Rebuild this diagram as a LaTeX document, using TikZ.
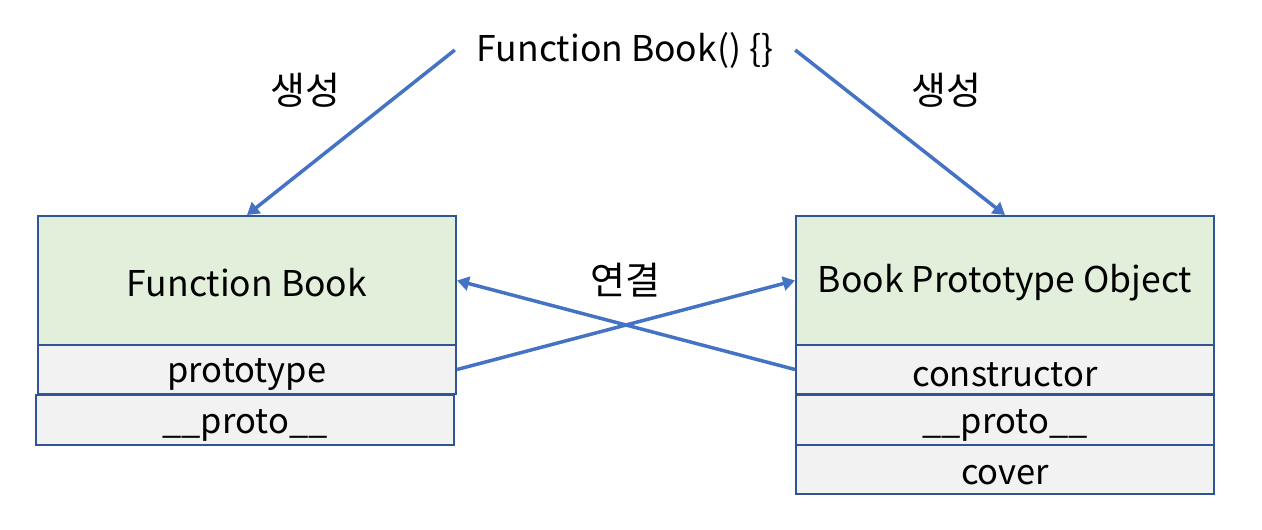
\documentclass[tikz,border=0pt]{standalone}
\usepackage{fontspec}
\setmainfont{Noto Sans CJK KR}
\usetikzlibrary{arrows.meta}
\definecolor{linkblue}{HTML}{4472C4}
\definecolor{boxborder}{HTML}{2F5597}
\definecolor{headfill}{HTML}{E2EFDA}
\definecolor{rowfill}{HTML}{F2F2F2}
\tikzset{
  headbox/.style={draw=boxborder, line width=2pt, fill=headfill, minimum width=418pt, minimum height=129pt, inner sep=0pt},
  headtext/.style={inner sep=0pt, font=\fontsize{35.5}{40}\selectfont},
  rowbox/.style={draw=boxborder, line width=2pt, fill=rowfill, minimum width=418pt, minimum height=49pt, inner sep=0pt},
  rowtext/.style={inner sep=0pt, font=\fontsize{34.5}{38}\selectfont},
  lbl/.style={inner sep=0pt, font=\fontsize{38}{42}\selectfont},
  conn/.style={draw=linkblue, line width=3.5pt, -{Triangle[width=14pt,length=12pt]}}
}
\begin{document}
\begin{tikzpicture}[x=1pt,y=-1pt]
\useasboundingbox (0,0) rectangle (1262,530);
\node[headbox] (lfb) at (247,280.5) {};
\node[headtext] (lfbt) at (247,283) {Function Book};
\node[rowbox] (lproto) at (247,369.5) {};
\node[rowtext] (lprotot) at (247,375) {prototype};
\node[rowbox, minimum height=50pt] (lpp) at (245,420) {};
\node[rowtext] (lppt) at (245,425) {\_\_proto\_\_};
\node[headbox] (rfb) at (1005,280.5) {};
\node[headtext] (rfbt) at (1005,283) {Book Prototype Object};
\node[rowbox] (rcons) at (1005,369.5) {};
\node[rowtext] (rconst) at (1005,375) {constructor};
\node[rowbox, minimum height=50pt] (rpp) at (1005,420) {};
\node[rowtext] (rppt) at (1005,425) {\_\_proto\_\_};
\node[rowbox] (rcov) at (1005,469.5) {};
\node[rowtext] (rcovt) at (1005,475) {cover};
\node[headtext, minimum width=340pt] (title) at (625,50) {Function Book() \{\}};
\node[lbl] (g1) at (305,90) {생성};
\node[lbl] (g2) at (946,90) {생성};
\node[lbl] (link) at (625,280) {연결};
\draw[conn] (title.west) -- (lfb.north);
\draw[conn] (title.east) -- (rfb.north);
\draw[conn] (lproto.east) -- (rfb.west);
\draw[conn] (rcons.west) -- (lfb.east);
\end{tikzpicture}
\end{document}
